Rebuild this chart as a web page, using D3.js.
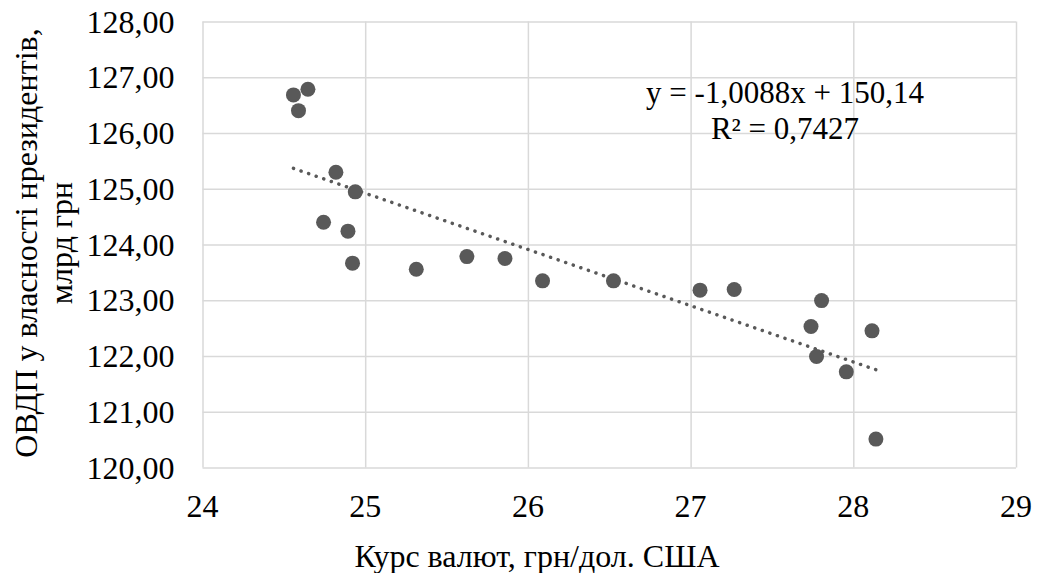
<!DOCTYPE html>
<meta charset="utf-8">
<style>
  body { margin: 0; background: #fff; }
  .grid line { stroke: #d9d9d9; stroke-width: 1.5px; }
  .grid path { display: none; }
</style>
<body>
<script src="https://d3js.org/d3.v7.min.js"></script>
<script>

// values
var rate = [24.559, 24.648, 24.590, 24.820, 24.939, 24.744, 24.894, 24.922, 25.314, 25.625, 25.859,
            26.090, 26.526, 27.058, 27.268, 27.805, 27.740, 27.774, 27.957, 28.115, 28.139];
var ovdp = [126.683, 126.785, 126.401, 125.297, 124.944, 124.400, 124.239, 123.665, 123.557, 123.783, 123.748,
            123.348, 123.348, 123.181, 123.192, 122.994, 122.528, 121.990, 121.716, 122.451, 120.509];
var xTicks = [24, 25, 26, 27, 28, 29];
var yTicks = [120, 121, 122, 123, 124, 125, 126, 127, 128];
var trend = {slope: -1.0088, intercept: 150.14, r2: 0.7427};
var eqLines = ["y = -1,0088x + 150,14", "R² = 0,7427"];
var xTitle = "Курс валют, грн/дол. США";
var yTitle = ["ОВДП у власності нрезидентів,", "млрд грн"];

var W = 1037, H = 573;
var m = {left: 202.5, right: 1016, top: 21.5, bottom: 467.5};
var serif = "'Liberation Serif', 'DejaVu Serif', 'Times New Roman', serif";

var svg = d3.select("body").append("svg")
    .attr("width", W)
    .attr("height", H)
    .attr("font-family", serif);

var x = d3.scaleLinear().domain([24, 29]).range([m.left, m.right]);
var y = d3.scaleLinear().domain([120, 128]).range([m.bottom, m.top]);

var comma = function (d) { return d.toFixed(2).replace(".", ","); };

// gridlines
svg.append("g")
    .attr("class", "grid")
    .attr("transform", "translate(0," + m.bottom + ")")
    .call(d3.axisBottom(x).tickValues(xTicks).tickSize(-(m.bottom - m.top)).tickFormat(""));

svg.append("g")
    .attr("class", "grid")
    .attr("transform", "translate(" + m.left + ",0)")
    .call(d3.axisLeft(y).tickValues(yTicks).tickSize(-(m.right - m.left)).tickFormat(""));

// tick labels
svg.append("g").selectAll("text")
    .data(yTicks)
  .enter().append("text")
    .attr("x", m.left - 28)
    .attr("y", function (d) { return y(d); })
    .attr("dy", "0.35em")
    .attr("text-anchor", "end")
    .attr("font-family", serif)
    .attr("font-size", 32)
    .text(comma);

svg.append("g").selectAll("text")
    .data(xTicks)
  .enter().append("text")
    .attr("x", function (d) { return x(d); })
    .attr("y", m.bottom + 49.5)
    .attr("text-anchor", "middle")
    .attr("font-family", serif)
    .attr("font-size", 32)
    .text(function (d) { return d; });

// trend line (dotted), over data extent
var ext = d3.extent(rate);
var line = d3.line()
    .x(function (d) { return x(d); })
    .y(function (d) { return y(trend.slope * d + trend.intercept); });

svg.append("path")
    .datum(ext)
    .attr("d", line)
    .style("fill", "none")
    .style("stroke", "#595959")
    .style("stroke-width", 3.5)
    .style("stroke-linecap", "round")
    .style("stroke-dasharray", "0.1 7.9");

// points
svg.append("g").selectAll("circle")
    .data(d3.range(rate.length))
  .enter().append("circle")
    .attr("cx", function (i) { return x(rate[i]); })
    .attr("cy", function (i) { return y(ovdp[i]); })
    .attr("r", 7.5)
    .style("fill", "#595959");

// equation label
svg.append("g").selectAll("text")
    .data(eqLines)
  .enter().append("text")
    .attr("x", 785)
    .attr("y", function (d, i) { return 102.5 + i * 36.5; })
    .attr("text-anchor", "middle")
    .attr("font-family", serif)
    .attr("font-size", 31)
    .text(function (d) { return d; });

// axis titles
svg.append("text")
    .attr("x", 537)
    .attr("y", 567)
    .attr("text-anchor", "middle")
    .attr("font-family", serif)
    .attr("font-size", 32)
    .text(xTitle);

svg.append("g")
    .attr("transform", "translate(0,243) rotate(-90)")
  .selectAll("text")
    .data(yTitle)
  .enter().append("text")
    .attr("x", 0)
    .attr("y", function (d, i) { return 37 + i * 35; })
    .attr("text-anchor", "middle")
    .attr("font-family", serif)
    .attr("font-size", 32)
    .text(function (d) { return d; });

</script>
</body>
